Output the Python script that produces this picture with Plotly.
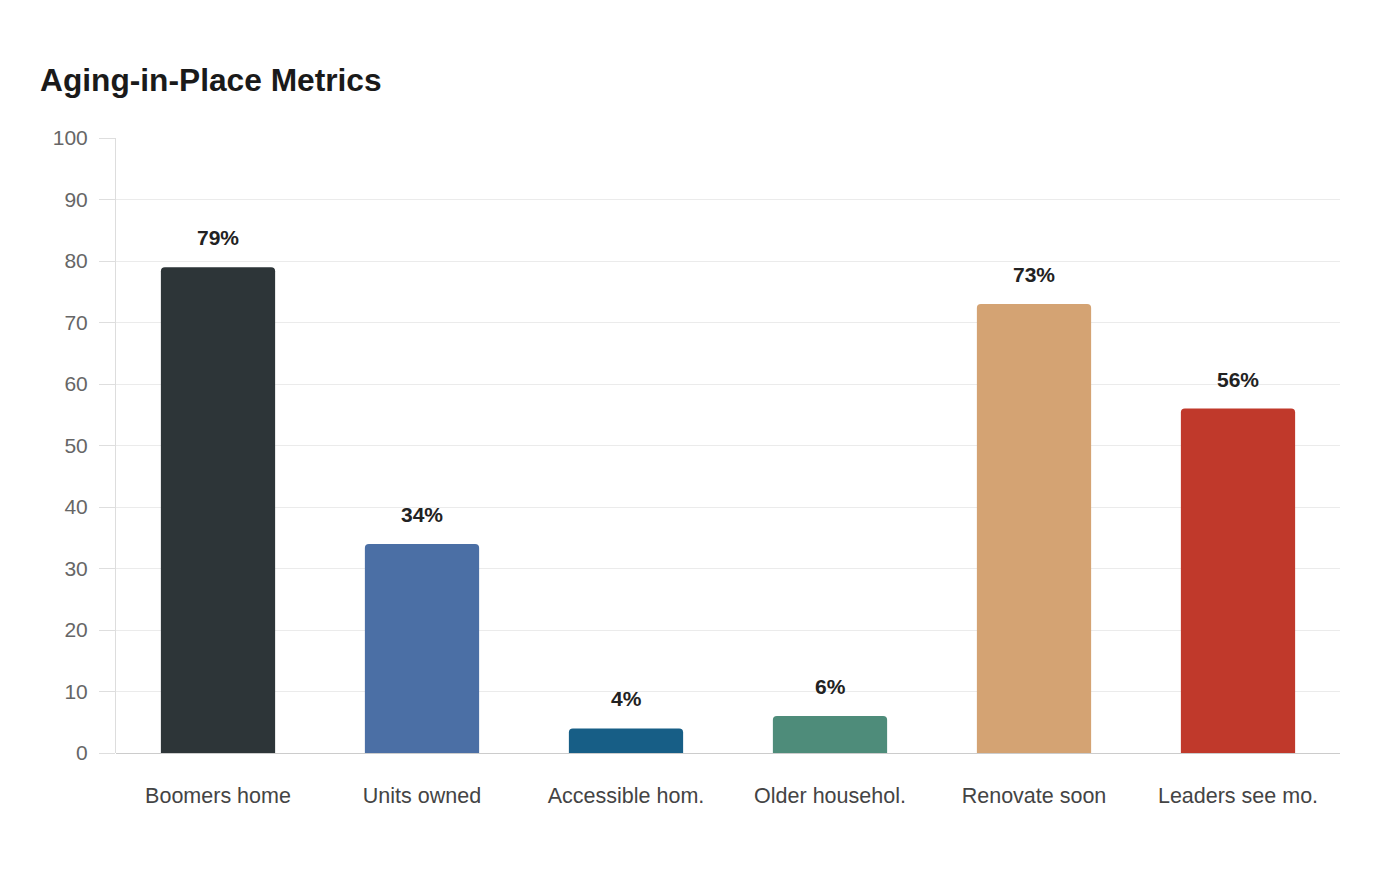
import plotly.graph_objects as go

categories = ["Boomers home", "Units owned", "Accessible hom.", "Older househol.", "Renovate soon", "Leaders see mo."]
values = [79, 34, 4, 6, 73, 56]
colors = ["#2d3538", "#4b6fa5", "#175e86", "#4e8c7a", "#d4a373", "#c0392b"]
y_ticks = list(range(0, 101, 10))

fig = go.Figure()
fig.add_trace(go.Bar(
    x=categories, y=values,
    marker=dict(color=colors, cornerradius=4, line=dict(width=0)),
    hoverinfo="skip",
))

for c, v in zip(categories, values):
    fig.add_annotation(
        x=c, y=v, text=f"{v}%", showarrow=False,
        yanchor="bottom", yshift=16,
        font=dict(family="Liberation Sans, Arial, sans-serif", size=21, color="#222222", weight="bold"),
    )

fig.update_layout(
    width=1400, height=880,
    paper_bgcolor="white", plot_bgcolor="white",
    margin=dict(l=116, r=60, t=138, b=127),
    showlegend=False,
    bargap=0.44,
    font=dict(family="Liberation Sans, Arial, sans-serif"),
    title=dict(
        text="<b>Aging-in-Place Metrics</b>",
        x=0, xanchor="left", xref="container",
        y=1 - 80 / 880, yanchor="middle", yref="container",
        pad=dict(l=40),
        font=dict(size=31.7, color="#1a1a1a"),
    ),
)

fig.update_xaxes(
    showgrid=False, showline=False, ticks="",
    tickfont=dict(size=21.5, color="#444444"),
    ticklabelstandoff=27,
)
fig.update_yaxes(
    range=[0, 100], tickvals=y_ticks,
    showgrid=True, gridcolor="#ebebeb", gridwidth=1,
    showline=True, linecolor="#dddddd", linewidth=1,
    ticks="outside", ticklen=16, tickcolor="#dedede", tickwidth=1,
    tickfont=dict(size=21, color="#666666"),
    zeroline=True, zerolinecolor="#cccccc", zerolinewidth=1,
    ticklabelstandoff=7,
)

fig.write_html("out.html")
